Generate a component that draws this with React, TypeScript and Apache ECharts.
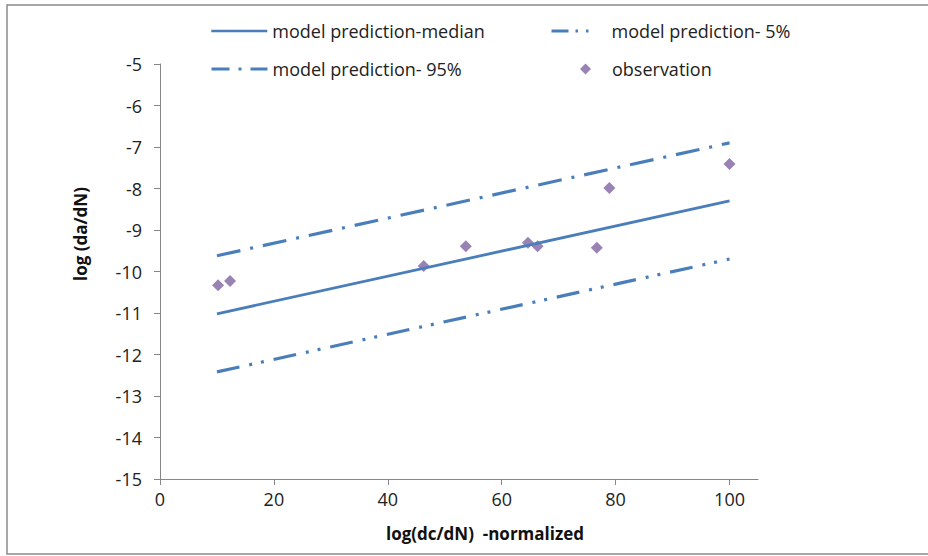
import React, { useEffect, useRef } from "react";
import * as echarts from "echarts";

const xTicks = [0, 20, 40, 60, 80, 100];
const medianLine = [[10, -11.02], [100, -8.3]];
const p5Line = [[10, -12.42], [100, -9.7]];
const p95Line = [[10, -9.62], [100, -6.9]];
const obsX = [10.2, 12.3, 46.3, 53.7, 64.6, 66.3, 76.7, 78.9, 100];
const obsY = [-10.33, -10.23, -9.87, -9.39, -9.31, -9.39, -9.43, -7.99, -7.41];

const FONT = "'Open Sans', sans-serif";
const BLUE = "#4A7EBB";
const PURPLE = "#8064A2";
const DASH_5 = [23, 10, 3, 9, 3, 10];
const DASH_95 = [24, 10, 3, 10];

export default function App() {
  const ref = useRef<HTMLDivElement>(null);
  useEffect(() => {
    document.body.style.margin = "0";
    const chart = echarts.init(ref.current!, null, { renderer: "svg" });
    const legendText = { fontFamily: FONT, fontSize: 18, color: "#222" };
    const mkLegend = (name: string, left: number, top: number, w: number, extra: any = {}) => ({
      data: [name],
      left,
      top,
      padding: 0,
      itemWidth: w,
      itemHeight: 14,
      textStyle: legendText,
      selectedMode: false,
      itemStyle: { opacity: 0 },
      ...extra,
    });
    chart.setOption({
      animation: false,
      backgroundColor: "#fff",
      grid: { left: 160, top: 64, right: 170, bottom: 77, containLabel: false },
      legend: [
        mkLegend("model prediction-median", 210, 22, 56, { lineStyle: { width: 2.6, type: "solid" } }),
        mkLegend("model prediction- 5%", 550, 22, 45, {
          textStyle: { ...legendText, padding: [0, 0, 0, 10] },
          lineStyle: { width: 3, type: [17, 7, 2.5, 8, 2.5, 8] },
        }),
        mkLegend("model prediction- 95%", 210, 60, 56, { lineStyle: { width: 3, type: [18, 9, 3, 9, 18] } }),
        mkLegend("observation", 580, 60, 11, {
          itemHeight: 11,
          itemStyle: {},
          textStyle: { ...legendText, padding: [0, 0, 0, 16] },
        }),
      ],
      xAxis: {
        type: "value",
        min: 0,
        max: 105,
        interval: 20,
        splitLine: { show: false },
        axisLine: { lineStyle: { color: "#868686", width: 1 } },
        axisTick: { show: true, length: 6, lineStyle: { color: "#868686" }, customValues: xTicks },
        axisLabel: { fontFamily: FONT, fontSize: 18, color: "#222", margin: 11, customValues: xTicks },
      },
      yAxis: {
        type: "value",
        min: -15,
        max: -5,
        interval: 1,
        splitLine: { show: false },
        axisLine: { show: true, lineStyle: { color: "#868686", width: 1 } },
        axisTick: { show: true, length: 6, lineStyle: { color: "#868686" } },
        axisLabel: { fontFamily: FONT, fontSize: 18, color: "#222", margin: 18 },
      },
      graphic: [
        {
          type: "rect",
          shape: { x: 7, y: 5, width: 940, height: 549 },
          style: { fill: "none", stroke: "#8a8a8a", lineWidth: 1.5 },
          silent: true,
          z: -1,
        },
        {
          type: "text",
          x: 80,
          y: 234,
          rotation: Math.PI / 2,
          style: {
            text: "log (da/dN)",
            fontFamily: FONT,
            fontWeight: "bold",
            fontSize: 17,
            fill: "#111",
            align: "center",
            verticalAlign: "middle",
          },
        },
        {
          type: "text",
          x: 485,
          y: 533,
          style: {
            text: "log(dc/dN)  -normalized",
            fontFamily: FONT,
            fontWeight: "bold",
            fontSize: 17,
            fill: "#111",
            align: "center",
            verticalAlign: "middle",
          },
        },
      ],
      series: [
        {
          name: "model prediction-median",
          type: "line",
          data: medianLine,
          symbol: "none",
          lineStyle: { color: BLUE, width: 2.8 },
          itemStyle: { color: BLUE },
        },
        {
          name: "model prediction- 5%",
          type: "line",
          data: p5Line,
          symbol: "none",
          lineStyle: { color: BLUE, width: 3.2, type: DASH_5 },
          itemStyle: { color: BLUE },
        },
        {
          name: "model prediction- 95%",
          type: "line",
          data: p95Line,
          symbol: "none",
          lineStyle: { color: BLUE, width: 3.2, type: DASH_95 },
          itemStyle: { color: BLUE },
        },
        {
          name: "observation",
          type: "scatter",
          data: obsX.map((x, i) => [x, obsY[i]]),
          symbol: "diamond",
          symbolSize: 12,
          itemStyle: { color: PURPLE },
        },
      ],
    });
    return () => chart.dispose();
  }, []);
  return <div ref={ref} style={{ position: "absolute", left: 0, top: 0, width: 928, height: 556 }} />;
}
